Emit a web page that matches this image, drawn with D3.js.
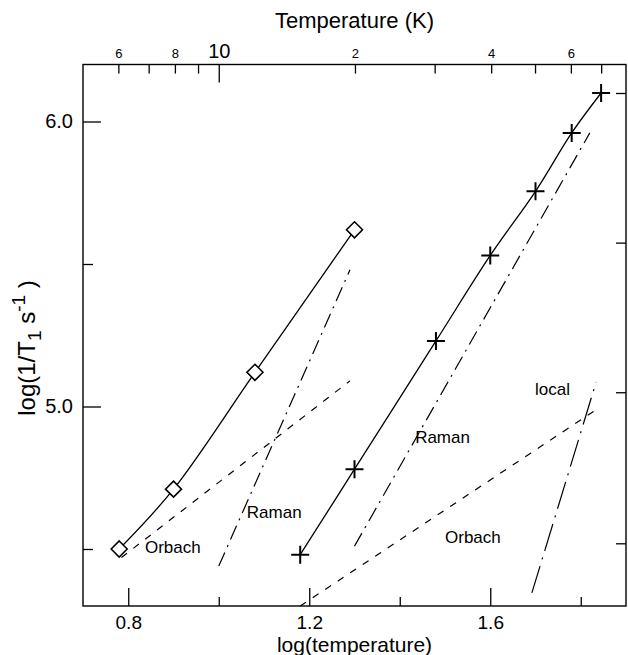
<!DOCTYPE html>
<html>
<head>
<meta charset="utf-8">
<script src="https://cdn.jsdelivr.net/npm/d3@7/dist/d3.min.js"></script>
<style>
  body { margin: 0; background: #fff; }
  svg text { font-family: "Liberation Sans", Arial, sans-serif; fill: #000; }
</style>
</head>
<body>
<svg id="chart" width="628" height="655"></svg>
<script>
// measured points, x = log(temperature), y = log(1/T1)
var diamondX = [0.78, 0.90, 1.08, 1.30];
var diamondY = [4.50, 4.71, 5.12, 5.62];
var plusX = [1.18, 1.30, 1.48, 1.60, 1.70, 1.78, 1.845];
var plusY = [4.48, 4.78, 5.23, 5.53, 5.755, 5.96, 6.10];

// fitted contributions, [start, end] as [x, y]
var orbachLeft = [[0.785, 4.47], [1.29, 5.09]];
var ramanLeft = [[1.00, 4.44], [1.29, 5.48]];
var orbachRight = [[1.18, 4.30], [1.84, 4.995]];
var ramanRight = [[1.30, 4.51], [1.82, 5.96]];
var localRight = [[1.692, 4.346], [1.834, 5.086]];

// ticks
var xMajor = [0.8, 1.2, 1.6];
var xMinor = [1.0, 1.4, 1.8];
var yMajor = [5.0, 6.0];
var yMinor = [4.5, 5.5];
var rightTicks = [6.1, 5.575, 5.05, 4.52];
var tempTicks = [6, 7, 8, 9, 10, 20, 30, 40, 50, 60, 70];
var tempLabels = {6: "6", 8: "8", 10: "10", 20: "2", 40: "4", 60: "6"};

var notes = [
  {text: "Orbach", x: 0.837, y: 4.486},
  {text: "Raman", x: 1.062, y: 4.609},
  {text: "Raman", x: 1.434, y: 4.872},
  {text: "local", x: 1.699, y: 5.04},
  {text: "Orbach", x: 1.50, y: 4.521}
];

var svg = d3.select("#chart");

var x = d3.scaleLinear().domain([0.7, 1.9]).range([83, 626]);
var y = d3.scaleLinear().domain([4.3, 6.2]).range([606, 64.5]);
var t = d3.scaleLog().domain([Math.pow(10, 0.7), Math.pow(10, 1.9)]).range([83, 626]);

// frame
svg.append("rect")
  .attr("x", x(0.7)).attr("y", y(6.2))
  .attr("width", x(1.9) - x(0.7)).attr("height", y(4.3) - y(6.2))
  .attr("fill", "none").attr("stroke", "#000").attr("stroke-width", 1.4);

function clean(g) {
  g.select(".domain").remove();
  g.selectAll("line").attr("stroke", "#000").attr("stroke-width", 1.3);
}

// bottom axis
svg.append("g")
  .attr("transform", "translate(0," + y(4.3) + ")")
  .call(d3.axisBottom(x).tickValues(xMajor).tickSizeInner(-18).tickSizeOuter(0).tickPadding(10).tickFormat(d3.format(".1f")))
  .call(clean)
  .selectAll("text").attr("font-size", 19);
svg.append("g")
  .attr("transform", "translate(0," + y(4.3) + ")")
  .call(d3.axisBottom(x).tickValues(xMinor).tickSizeInner(-9).tickSizeOuter(0).tickFormat(""))
  .call(clean);

// left axis
svg.append("g")
  .attr("transform", "translate(" + x(0.7) + ",0)")
  .call(d3.axisLeft(y).tickValues(yMajor).tickSizeInner(-18).tickSizeOuter(0).tickPadding(10).tickFormat(d3.format(".1f")))
  .call(clean)
  .selectAll("text").attr("font-size", 20);
svg.append("g")
  .attr("transform", "translate(" + x(0.7) + ",0)")
  .call(d3.axisLeft(y).tickValues(yMinor).tickSizeInner(-10).tickSizeOuter(0).tickFormat(""))
  .call(clean);

// right axis, no labels
svg.append("g")
  .attr("transform", "translate(" + x(1.9) + ",0)")
  .call(d3.axisRight(y).tickValues(rightTicks).tickSizeInner(-10).tickSizeOuter(0).tickFormat(""))
  .call(clean);

// top axis in kelvin
var topAxis = svg.append("g")
  .attr("transform", "translate(0," + y(6.2) + ")")
  .call(d3.axisTop(t).tickValues(tempTicks).tickSizeInner(-9).tickSizeOuter(0).tickPadding(7)
    .tickFormat(function(d) { return tempLabels[d] || ""; }))
  .call(clean);
topAxis.selectAll("text").attr("font-size", function(d) { return d === 10 ? 20 : 13; });
topAxis.selectAll(".tick line").attr("y2", function(d) { return d === 10 ? 18 : 9; });

// titles
svg.append("text")
  .attr("x", (x(0.7) + x(1.9)) / 2).attr("y", 28)
  .attr("text-anchor", "middle").attr("font-size", 22)
  .text("Temperature (K)");
svg.append("text")
  .attr("x", (x(0.7) + x(1.9)) / 2).attr("y", 652)
  .attr("text-anchor", "middle").attr("font-size", 21)
  .text("log(temperature)");

var yt = svg.append("text")
  .attr("transform", "translate(35,348) rotate(-90)")
  .attr("text-anchor", "middle").attr("font-size", 24);
yt.append("tspan").text("log(1/T");
yt.append("tspan").attr("font-size", 19).attr("dy", 6).text("1");
yt.append("tspan").attr("dy", -6).text(" s");
yt.append("tspan").attr("font-size", 19).attr("dy", -10).text("-1");
yt.append("tspan").attr("dy", 10).text(" )");

// component lines
var seg = d3.line().x(function(d) { return x(d[0]); }).y(function(d) { return y(d[1]); });
function comp(pts, dash) {
  svg.append("path")
    .attr("d", seg(pts))
    .attr("fill", "none").attr("stroke", "#000").attr("stroke-width", 1.2)
    .attr("stroke-dasharray", dash);
}
comp(orbachLeft, "7,8");
comp(orbachRight, "7,8");
comp(ramanLeft, "15,6,2,6");
comp(ramanRight, "15,6,2,6");
comp(localRight, "28,7,2,7");

// fitted totals through the points
var curve = d3.line()
  .x(function(d) { return x(d[0]); }).y(function(d) { return y(d[1]); })
  .curve(d3.curveCatmullRom.alpha(0.5));
var diamonds = d3.zip(diamondX, diamondY);
var pluses = d3.zip(plusX, plusY);
svg.append("path").attr("d", curve(diamonds))
  .attr("fill", "none").attr("stroke", "#000").attr("stroke-width", 1.3);
svg.append("path").attr("d", curve(pluses))
  .attr("fill", "none").attr("stroke", "#000").attr("stroke-width", 1.3);

// markers
svg.selectAll(".diamond")
  .data(diamonds)
  .enter()
  .append("path")
  .attr("class", "diamond")
  .attr("transform", function(d) { return "translate(" + x(d[0]) + "," + y(d[1]) + ")"; })
  .attr("d", "M0,-8L8,0L0,8L-8,0Z")
  .attr("fill", "#fff").attr("stroke", "#000").attr("stroke-width", 1.6);

svg.selectAll(".plus")
  .data(pluses)
  .enter()
  .append("path")
  .attr("class", "plus")
  .attr("transform", function(d) { return "translate(" + x(d[0]) + "," + y(d[1]) + ")"; })
  .attr("d", "M-9,0H9M0,-9V9")
  .attr("stroke", "#000").attr("stroke-width", 2);

// annotations
svg.selectAll(".note")
  .data(notes)
  .enter()
  .append("text")
  .attr("class", "note")
  .attr("x", function(d) { return x(d.x); })
  .attr("y", function(d) { return y(d.y); })
  .attr("font-size", 17)
  .text(function(d) { return d.text; });
</script>
</body>
</html>
